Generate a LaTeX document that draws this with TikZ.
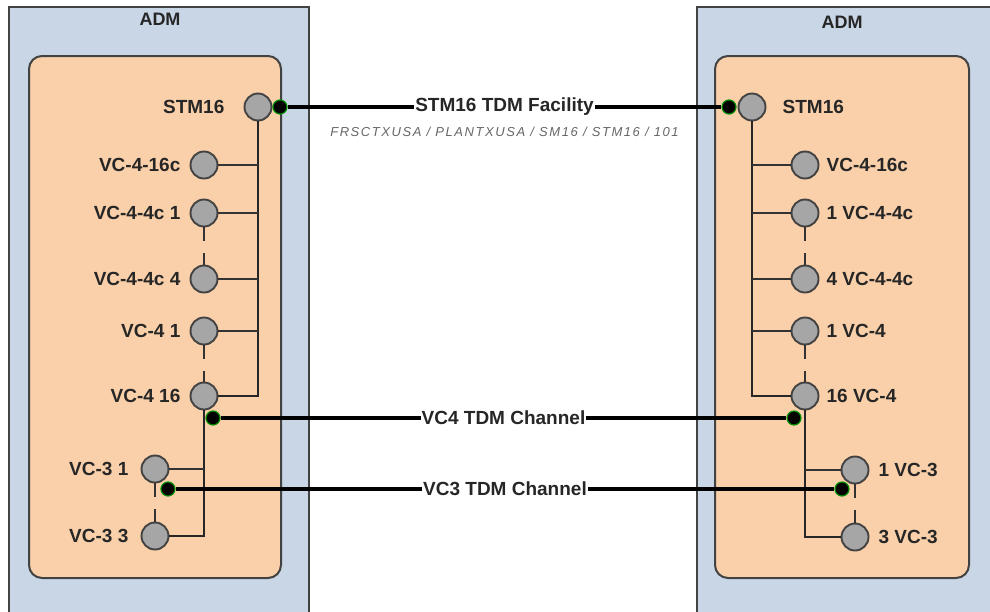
\documentclass[tikz,border=0pt]{standalone}
\usepackage{fontspec}
\setmainfont{Liberation Sans}
\newfontfamily\facfont[LetterSpace=12]{Liberation Sans}
\usetikzlibrary{positioning}
\definecolor{admblue}{RGB}{201,214,230}
\definecolor{cardpeach}{RGB}{250,208,170}
\definecolor{tpgray}{RGB}{166,166,166}
\definecolor{edgegray}{RGB}{66,66,66}
\definecolor{portgreen}{RGB}{0,140,0}

\tikzset{
    adm/.style={draw=edgegray, line width=1.8pt, fill=admblue},
    card/.style={draw=edgegray, line width=2pt, fill=cardpeach, rounded corners=13pt},
    tp/.style={circle, draw=edgegray, line width=1.9pt, fill=tpgray, minimum size=27pt, inner sep=0pt},
    port/.style={circle, draw=portgreen, line width=1.2pt, fill=black, minimum size=14pt, inner sep=0pt},
    lbl/.style={font=\fontsize{19}{21}\selectfont\bfseries, text=black!85, inner sep=0pt},
    bus/.style={line width=2.8pt, black!85},
    branch/.style={line width=2.2pt, black!80},
    link/.style={line width=3.2pt, black},
    gap/.style={line width=2.4pt, black!80, dash pattern=on 14pt off 12pt},
}

\begin{document}
\begin{tikzpicture}[x=1pt, y=-1pt]

    \useasboundingbox (0,0) rectangle (990,611);

    % the two ADM shelves
    \draw[adm] (9,7) rectangle (309,620);
    \draw[adm] (697,7) rectangle (1000,620);
    \draw[card] (29,56) rectangle (281,578);
    \draw[card] (715,56) rectangle (969,578);

    \node[lbl, font=\fontsize{18}{20}\selectfont\bfseries] (admL) at (160,19) {ADM};
    \node[lbl, font=\fontsize{18}{20}\selectfont\bfseries] (admR) at (842,22) {ADM};

    % termination points, left ADM
    \node[tp] (stmL) at (258,107) {};
    \node[tp] (vc416cL) at (204,165) {};
    \node[tp] (vc44c1L) at (204,213) {};
    \node[tp] (vc44c4L) at (204,279) {};
    \node[tp] (vc41L) at (204,331) {};
    \node[tp] (vc416L) at (204,396) {};
    \node[tp] (vc31L) at (155,469) {};
    \node[tp] (vc33L) at (155,536) {};

    \node[lbl, left=19pt of stmL] {STM16};
    \node[lbl, left=9pt of vc416cL] {VC-4-16c};
    \node[lbl, left=9pt of vc44c1L] {VC-4-4c 1};
    \node[lbl, left=9pt of vc44c4L] {VC-4-4c 4};
    \node[lbl, left=9pt of vc41L] {VC-4 1};
    \node[lbl, left=9pt of vc416L] {VC-4 16};
    \node[lbl, left=12pt of vc31L] {VC-3 1};
    \node[lbl, left=12pt of vc33L] {VC-3 3};

    % termination points, right ADM
    \node[tp] (stmR) at (752,107) {};
    \node[tp] (vc416cR) at (805,165) {};
    \node[tp] (vc44c1R) at (805,213) {};
    \node[tp] (vc44c4R) at (805,279) {};
    \node[tp] (vc41R) at (805,331) {};
    \node[tp] (vc416R) at (805,396) {};
    \node[tp] (vc31R) at (855,470) {};
    \node[tp] (vc33R) at (855,537) {};

    \node[lbl, right=16pt of stmR] {STM16};
    \node[lbl, right=7pt of vc416cR] {VC-4-16c};
    \node[lbl, right=7pt of vc44c1R] {1 VC-4-4c};
    \node[lbl, right=7pt of vc44c4R] {4 VC-4-4c};
    \node[lbl, right=7pt of vc41R] {1 VC-4};
    \node[lbl, right=7pt of vc416R] {16 VC-4};
    \node[lbl, right=9pt of vc31R] {1 VC-3};
    \node[lbl, right=9pt of vc33R] {3 VC-3};

    % containment buses
    \draw[bus] (stmL.south) |- (vc416L.east);
    \draw[branch] (vc416cL.east) -- (vc416cL.east -| stmL.south);
    \draw[branch] (vc44c1L.east) -- (vc44c1L.east -| stmL.south);
    \draw[branch] (vc44c4L.east) -- (vc44c4L.east -| stmL.south);
    \draw[branch] (vc41L.east) -- (vc41L.east -| stmL.south);
    \draw[bus] (vc416L.south) |- (vc33L.east);
    \draw[branch] (vc31L.east) -- (vc31L.east -| vc416L.south);

    \draw[bus] (stmR.south) |- (vc416R.west);
    \draw[branch] (vc416cR.west) -- (vc416cR.west -| stmR.south);
    \draw[branch] (vc44c1R.west) -- (vc44c1R.west -| stmR.south);
    \draw[branch] (vc44c4R.west) -- (vc44c4R.west -| stmR.south);
    \draw[branch] (vc41R.west) -- (vc41R.west -| stmR.south);
    \draw[bus] (vc416R.south) |- (vc33R.west);
    \draw[branch] (vc31R.west) -- (vc31R.west -| vc416R.south);

    % ranges
    \draw[gap] (vc44c1L.south) -- (vc44c4L.north);
    \draw[gap] (vc41L.south) -- (vc416L.north);
    \draw[gap] (vc31L.south) -- (vc33L.north);
    \draw[gap] (vc44c1R.south) -- (vc44c4R.north);
    \draw[gap] (vc41R.south) -- (vc416R.north);
    \draw[gap] (vc31R.south) -- (vc33R.north);

    % ports
    \node[port] (pStmL) at (280,107) {};
    \node[port] (pVc4L) at (213,418) {};
    \node[port] (pVc3L) at (168,489) {};
    \node[port] (pStmR) at (729,107) {};
    \node[port] (pVc4R) at (794,418) {};
    \node[port] (pVc3R) at (842,489) {};

    % facility and channels
    \draw[link] (pStmL) -- node[lbl, fill=white, inner xsep=1pt, inner ysep=2pt] (facility) {STM16 TDM Facility} (pStmR);
    \node[below=4pt of facility, text=gray!80!black, font=\facfont\itshape\fontsize{13}{15}\selectfont] (facpath) {FRSCTXUSA / PLANTXUSA / SM16 / STM16 / 101};
    \draw[link] (pVc4L) -- node[lbl, fill=white, inner xsep=1pt, inner ysep=2pt] (vc4chan) {VC4 TDM Channel} (pVc4R);
    \draw[link] (pVc3L) -- node[lbl, fill=white, inner xsep=1pt, inner ysep=2pt] (vc3chan) {VC3 TDM Channel} (pVc3R);

\end{tikzpicture}
\end{document}
